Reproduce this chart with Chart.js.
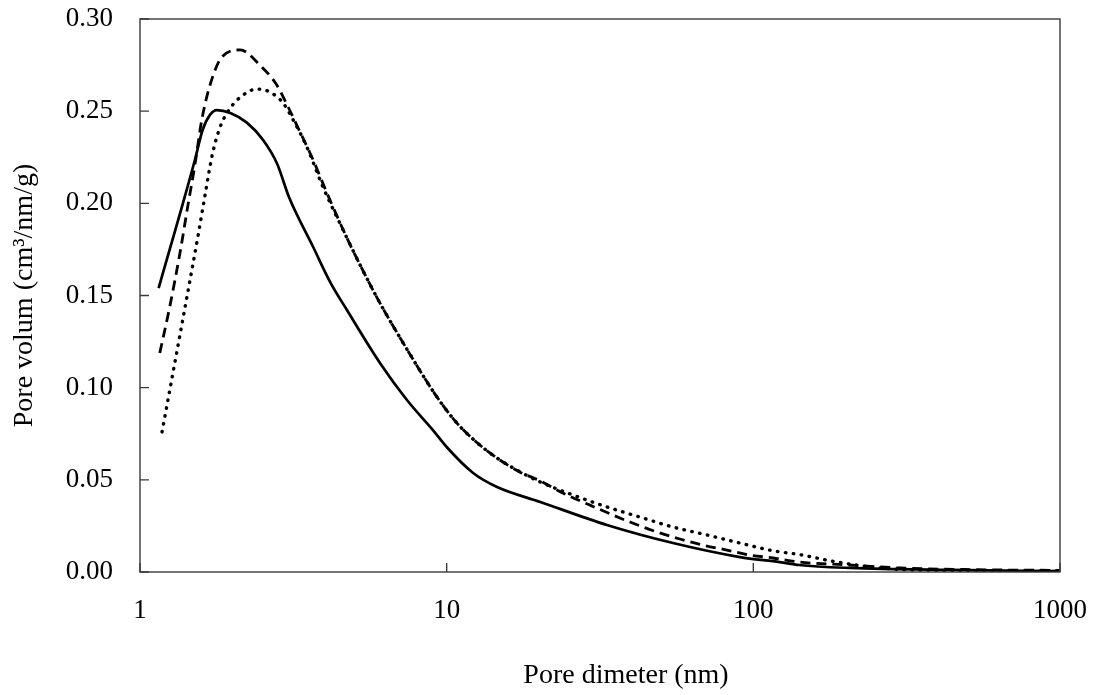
<!DOCTYPE html>
<html>
<head>
<meta charset="utf-8">
<script src="https://cdn.jsdelivr.net/npm/chart.js@4/dist/chart.umd.min.js"></script>
<style>
    body { margin: 0; background: #fff; }
    canvas { display: block; }
</style>
</head>
<body>
<canvas id="poreChart" width="1100" height="695"></canvas>
<script>

// pore size distributions, three samples
const diamSolid = [1.15, 1.25, 1.38, 1.51, 1.6, 1.69, 1.78, 1.97, 2.23, 2.52, 2.8, 3.06, 3.67, 4.17, 4.73, 6.06, 7.42, 9.02, 10.0, 12.2, 14.6, 20.2, 33.3, 54.7, 90.4, 122, 141, 206, 437, 1000];
const volSolid = [0.154, 0.175, 0.200, 0.2235, 0.2398, 0.2479, 0.2506, 0.249, 0.2438, 0.2344, 0.2215, 0.2034, 0.1763, 0.1573, 0.1421, 0.1134, 0.0933, 0.077, 0.0678, 0.0537, 0.0461, 0.038, 0.0255, 0.0157, 0.0081, 0.0054, 0.0038, 0.0022, 0.0011, 0.0005];

const diamDashed = [1.16, 1.25, 1.35, 1.43, 1.51, 1.59, 1.7, 1.85, 2.12, 2.46, 2.78, 3.02, 3.25, 3.67, 4.07, 4.73, 5.34, 6.06, 7.48, 9.3, 10.8, 12.6, 14.6, 17.3, 20.2, 23.9, 29.3, 39.6, 48.5, 57.6, 68.5, 82.0, 97.4, 116, 141, 206, 300, 637, 1000];
const volDashed = [0.1188, 0.1438, 0.1731, 0.198, 0.2208, 0.2452, 0.2653, 0.2794, 0.2832, 0.275, 0.2647, 0.2533, 0.2422, 0.2235, 0.2056, 0.1812, 0.1633, 0.1459, 0.1199, 0.0949, 0.0808, 0.07, 0.0618, 0.0543, 0.0494, 0.0429, 0.0363, 0.0271, 0.0217, 0.0179, 0.0146, 0.0119, 0.0092, 0.0076, 0.0054, 0.0038, 0.0022, 0.0011, 0.0009];

const diamDotted = [1.18, 1.35, 1.46, 1.55, 1.63, 1.72, 1.82, 1.97, 2.17, 2.41, 2.65, 2.93, 3.16, 3.5, 3.95, 4.73, 5.34, 6.06, 7.48, 9.3, 10.8, 12.6, 14.6, 17.3, 20.2, 25.8, 33.3, 42.7, 54.7, 70.6, 90.4, 116, 141, 182, 235, 300, 437, 1000];
const volDotted = [0.076, 0.1286, 0.1595, 0.1834, 0.2045, 0.2262, 0.2409, 0.2517, 0.2588, 0.262, 0.2604, 0.2544, 0.2452, 0.2306, 0.2089, 0.1812, 0.1633, 0.1459, 0.1199, 0.0949, 0.0808, 0.07, 0.0618, 0.0545, 0.0488, 0.0418, 0.0353, 0.0298, 0.0244, 0.0201, 0.0157, 0.0115, 0.0095, 0.0058, 0.003, 0.0014, 0.0008, 0.0005];

const xTickValues = [1, 10, 100, 1000];
const xTickLabels = ["1", "10", "100", "1000"];
const yTickValues = [0, 0.05, 0.10, 0.15, 0.20, 0.25, 0.30];
const yTickLabels = ["0.00", "0.05", "0.10", "0.15", "0.20", "0.25", "0.30"];

const xTitle = "Pore dimeter (nm)";
const yTitle = "Pore volum (cm³/nm/g)";

const serif = "'Liberation Serif', 'Times New Roman', serif";

function toPoints(xs, ys) {
    return xs.map((x, i) => ({ x: x, y: ys[i] }));
}

// box around the plot, short ticks pointing inwards, x title
const frameAndTicks = {
    id: "frameAndTicks",
    afterDraw(chart) {
        const { ctx, chartArea: a, scales: { x, y } } = chart;
        ctx.save();
        ctx.strokeStyle = "#3a3a3a";
        ctx.lineWidth = 1.4;
        ctx.strokeRect(a.left, a.top, a.right - a.left, a.bottom - a.top);

        ctx.beginPath();
        xTickValues.forEach(v => {
            const px = x.getPixelForValue(v);
            ctx.moveTo(px, a.bottom);
            ctx.lineTo(px, a.bottom - 9);
        });
        yTickValues.forEach(v => {
            const py = y.getPixelForValue(v);
            ctx.moveTo(a.left, py);
            ctx.lineTo(a.left + 9, py);
        });
        ctx.stroke();

        ctx.fillStyle = "#000";
        ctx.font = "28px " + serif;
        ctx.textAlign = "center";
        ctx.textBaseline = "middle";
        ctx.fillText(xTitle, 626, 676);
        ctx.restore();
    }
};

const lineBase = {
    borderColor: "#000",
    pointRadius: 0,
    fill: false,
    cubicInterpolationMode: "monotone"
};

new Chart(document.getElementById("poreChart"), {
    type: "line",
    data: {
        datasets: [
            Object.assign({}, lineBase, {
                label: "solid",
                data: toPoints(diamSolid, volSolid),
                borderWidth: 2.7
            }),
            Object.assign({}, lineBase, {
                label: "dashed",
                data: toPoints(diamDashed, volDashed),
                borderWidth: 2.8,
                borderDash: [10, 6]
            }),
            Object.assign({}, lineBase, {
                label: "dotted",
                data: toPoints(diamDotted, volDotted),
                borderWidth: 3.4,
                borderCapStyle: "round",
                borderDash: [0.5, 7.5]
            })
        ]
    },
    options: {
        responsive: false,
        animation: false,
        devicePixelRatio: 1,
        layout: {
            padding: { top: 19, right: 40, left: 0, bottom: 0 }
        },
        plugins: {
            legend: { display: false },
            tooltip: { enabled: false }
        },
        scales: {
            x: {
                type: "logarithmic",
                min: 1,
                max: 1000,
                afterBuildTicks: scale => {
                    scale.ticks = xTickValues.map(v => ({ value: v }));
                },
                afterFit: scale => {
                    scale.height = 123;
                    scale.paddingLeft = 0;
                    scale.paddingRight = 0;
                },
                grid: { drawOnChartArea: false, drawTicks: false },
                border: { display: false },
                ticks: {
                    autoSkip: false,
                    maxRotation: 0,
                    padding: 23,
                    color: "#000",
                    font: { family: serif, size: 27 },
                    callback: value => xTickLabels[xTickValues.indexOf(value)]
                }
            },
            y: {
                min: 0,
                max: 0.3,
                afterBuildTicks: scale => {
                    scale.ticks = yTickValues.map(v => ({ value: v }));
                },
                afterFit: scale => {
                    scale.width = 140;
                    scale.paddingTop = 0;
                    scale.paddingBottom = 0;
                },
                grid: { drawOnChartArea: false, drawTicks: false },
                border: { display: false },
                ticks: {
                    padding: 27,
                    color: "#000",
                    font: { family: serif, size: 27 },
                    callback: (value, i) => yTickLabels[i]
                },
                title: {
                    display: true,
                    text: yTitle,
                    color: "#000",
                    font: { family: serif, size: 28 },
                    padding: { top: 8, bottom: 0 }
                }
            }
        }
    },
    plugins: [frameAndTicks]
});
</script>
</body>
</html>
